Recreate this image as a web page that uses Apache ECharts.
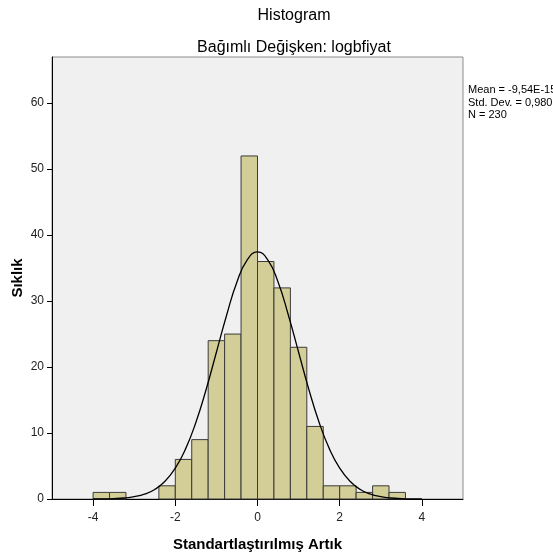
<!DOCTYPE html>
<html>
<head>
<meta charset="utf-8">
<script src="https://cdn.jsdelivr.net/npm/echarts@6/dist/echarts.min.js"></script>
<style>
  html, body { margin: 0; padding: 0; background: #fff; }
  #chart { width: 553px; height: 560px; }
</style>
</head>
<body>
<div id="chart"></div>
<script>
// histogram bins (width 0.4), left edges and counts
var binStart = [-4.0, -3.6, -2.4, -2.0, -1.6, -1.2, -0.8, -0.4, 0.0, 0.4, 0.8, 1.2, 1.6, 2.0, 2.4, 2.8, 3.2];
var binCount = [1, 1, 2, 6, 9, 24, 25, 52, 36, 32, 23, 11, 2, 2, 1, 2, 1];
var binWidth = 0.4;

// normal curve
var curveX = [-4.0, -3.75, -3.5, -3.25, -3.0, -2.75, -2.5, -2.25, -2.0, -1.75, -1.5, -1.25, -1.0, -0.75, -0.5, -0.25,
              0, 0.25, 0.5, 0.75, 1.0, 1.25, 1.5, 1.75, 2.0, 2.25, 2.5, 2.75, 3.0, 3.25, 3.5, 3.75, 4.0];
var curveY = [0.01, 0.02, 0.06, 0.15, 0.35, 0.73, 1.45, 2.69, 4.67, 7.6, 11.6, 16.6, 22.25, 27.9, 32.9, 36.25,
              37.45, 36.25, 32.9, 27.9, 22.25, 16.6, 11.6, 7.6, 4.67, 2.69, 1.45, 0.73, 0.35, 0.15, 0.06, 0.02, 0.01];

var xTicks = [-4, -2, 0, 2, 4];
var statsText = ['Mean = -9,54E-15', 'Std. Dev. = 0,980', 'N = 230'];

var chart = echarts.init(document.getElementById('chart'));

var barData = binStart.map(function (x, i) { return [x, x + binWidth, binCount[i]]; });
var lineData = curveX.map(function (x, i) { return [x, curveY[i]]; });

chart.setOption({
  animation: false,
  textStyle: { fontFamily: 'Liberation Sans, Arial, sans-serif' },
  title: [
    { text: 'Histogram', left: 289, top: 3, textAlign: 'center',
      textStyle: { fontSize: 16, fontWeight: 'normal', color: '#000' } },
    { text: 'Bağımlı Değişken: logbfiyat', left: 289, top: 35, textAlign: 'center',
      textStyle: { fontSize: 16, fontWeight: 'normal', color: '#000' } }
  ],
  graphic: [{
    type: 'text', left: 468, top: 84,
    style: { text: statsText.join('\n'), fontSize: 11, lineHeight: 12.5, fill: '#000',
             fontFamily: 'Liberation Sans, Arial, sans-serif' }
  }],
  grid: {
    left: 52, right: 90, top: 57, bottom: 61,
    outerBoundsMode: 'none', containLabel: false,
    show: true, backgroundColor: '#f0f0f0', borderColor: '#8c8c8c', borderWidth: 1
  },
  xAxis: {
    type: 'value', min: -5, max: 5,
    name: 'Standartlaştırılmış Artık', nameLocation: 'middle', nameGap: 38,
    nameMoveOverlap: false,
    nameTextStyle: { fontSize: 15, fontWeight: 'bold', color: '#000' },
    axisLine: { onZero: false, lineStyle: { color: '#000', width: 1 } },
    axisTick: { show: true, length: 7, customValues: xTicks, lineStyle: { color: '#000' } },
    axisLabel: { customValues: xTicks, color: '#222', fontSize: 12, margin: 13 },
    splitLine: { show: false }
  },
  yAxis: {
    type: 'value', min: 0, max: 67, interval: 10,
    name: 'Sıklık', nameLocation: 'middle', nameGap: 27,
    nameMoveOverlap: false,
    nameTextStyle: { fontSize: 15, fontWeight: 'bold', color: '#000' },
    axisLine: { show: true, onZero: false, lineStyle: { color: '#000', width: 1 } },
    axisTick: { show: true, length: 5, lineStyle: { color: '#000' } },
    axisLabel: { color: '#222', fontSize: 12, margin: 8, showMaxLabel: false },
    splitLine: { show: false }
  },
  series: [
    {
      type: 'custom',
      data: barData,
      encode: { x: [0, 1], y: 2 },
      renderItem: function (params, api) {
        var p0 = api.coord([api.value(0), api.value(2)]);
        var p1 = api.coord([api.value(1), 0]);
        return {
          type: 'rect',
          shape: { x: p0[0], y: p0[1], width: p1[0] - p0[0], height: p1[1] - p0[1] },
          style: { fill: '#d3ce98', stroke: '#3a3a3a', lineWidth: 1 }
        };
      }
    },
    {
      type: 'line',
      data: lineData,
      smooth: true,
      showSymbol: false,
      lineStyle: { color: '#000', width: 1.3 },
      z: 5
    }
  ]
});
</script>
</body>
</html>
